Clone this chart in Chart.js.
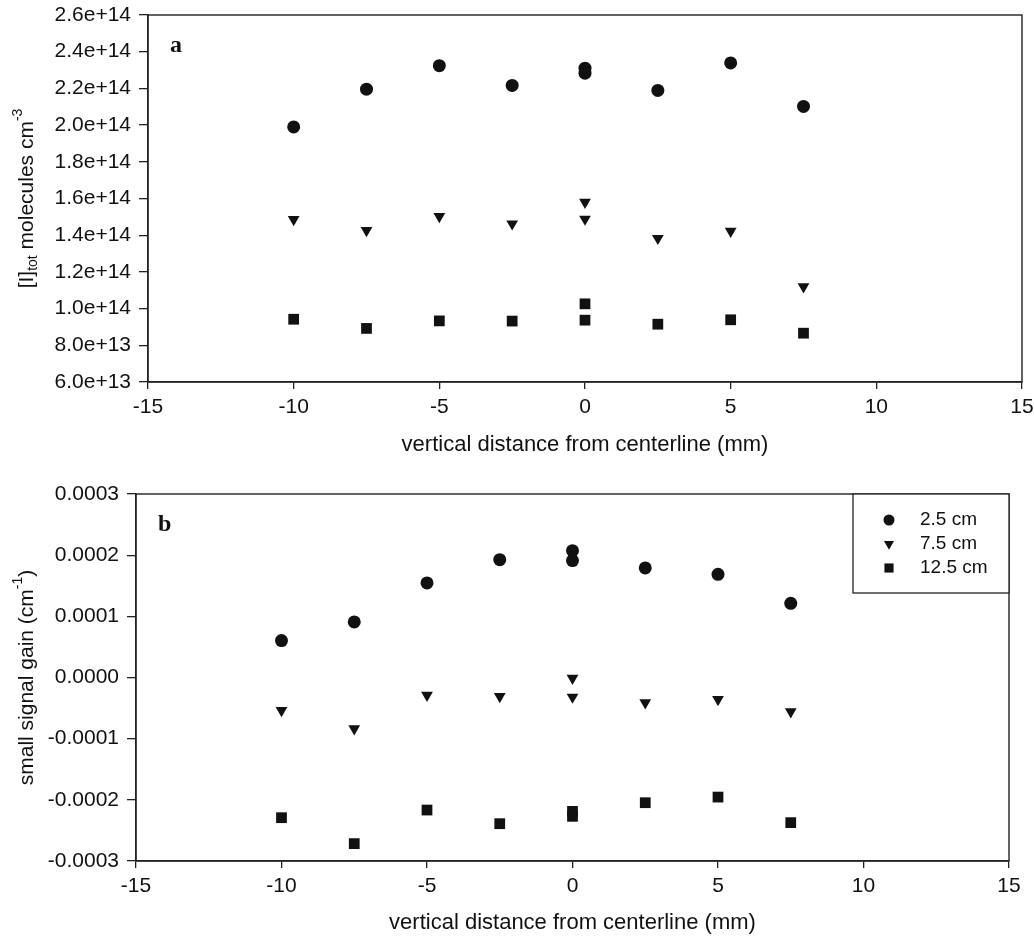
<!DOCTYPE html>
<html>
<head>
<meta charset="utf-8">
<title>[I]tot and small signal gain vs vertical distance from centerline</title>
<script src="https://cdn.jsdelivr.net/npm/chart.js@4.4.1/dist/chart.umd.min.js"></script>
<style>
  html, body { margin: 0; padding: 0; background: #fff; overflow: hidden; }
  #wrap  { position: relative; width: 1034px; height: 940px; overflow: hidden; }
  .panel { position: absolute; left: 0; }
  #panelA { top: -6px; width: 1040px; height: 476px; }
  #panelB { top: 470px; width: 1034px; height: 470px; }
</style>
</head>
<body>
<div id="wrap">
  <div class="panel" id="panelA"><canvas id="chartA" width="1040" height="476"></canvas></div>
  <div class="panel" id="panelB"><canvas id="chartB" width="1034" height="470"></canvas></div>
</div>
<script>
// x positions in mm (centerline was measured twice)
var xDistance   = [-10, -7.5, -5, -2.5, 0, 0, 2.5, 5, 7.5];
var seriesNames = ['2.5 cm', '7.5 cm', '12.5 cm'];

// panel a: [I]tot, molecules cm^-3
var conc25  = [1.99e14, 2.196e14, 2.324e14, 2.216e14, 2.310e14, 2.283e14, 2.189e14, 2.339e14, 2.102e14];
var conc75  = [1.486e14, 1.426e14, 1.502e14, 1.462e14, 1.580e14, 1.488e14, 1.383e14, 1.422e14, 1.120e14];
var conc125 = [0.942e14, 0.892e14, 0.933e14, 0.932e14, 1.026e14, 0.937e14, 0.915e14, 0.939e14, 0.866e14];

// panel b: small signal gain, cm^-1
var gain25  = [6.04e-5, 9.09e-5, 1.546e-4, 1.927e-4, 2.074e-4, 1.911e-4, 1.791e-4, 1.687e-4, 1.213e-4];
var gain75  = [-5.39e-5, -8.38e-5, -2.89e-5, -3.10e-5, -0.12e-5, -3.20e-5, -4.13e-5, -3.59e-5, -5.60e-5];
var gain125 = [-2.292e-4, -2.716e-4, -2.167e-4, -2.390e-4, -2.189e-4, -2.270e-4, -2.047e-4, -1.955e-4, -2.373e-4];

// axis ranges and titles
var xRange     = { min: -15, max: 15, step: 5 };
var concRange  = { min: 6e13, max: 2.6e14, step: 2e13 };
var gainRange  = { min: -3e-4, max: 3e-4, step: 1e-4 };
var xTitle     = 'vertical distance from centerline (mm)';
var concTitle  = [{ text: '[I]' }, { text: 'tot', sub: true }, { text: ' molecules cm' }, { text: '-3', sup: true }];
var gainTitle  = [{ text: 'small signal gain (cm' }, { text: '-1', sup: true }, { text: ')' }];

(function () {

  var INK  = '#111';
  var FONT = '"Liberation Sans", Arial, Helvetica, sans-serif';
  var SIZE = 21;

  // marker looks per series: circle, down triangle, square
  var markers = [
    { pointStyle: 'circle',   radius: 6.5, rotation: 0   },
    { pointStyle: 'triangle', radius: 6.8, rotation: 180 },
    { pointStyle: 'rect',     radius: 7.6, rotation: 0   }
  ];

  function toPoints(ys) {
    return xDistance.map(function (x, i) { return { x: x, y: ys[i] }; });
  }

  function makeDatasets(list) {
    return list.map(function (ys, i) {
      var m = markers[i];
      return {
        label:            seriesNames[i],
        data:             toPoints(ys),
        pointStyle:       m.pointStyle,
        pointRadius:      m.radius,
        pointHoverRadius: m.radius,
        rotation:         m.rotation,
        backgroundColor:  INK,
        borderColor:      INK,
        borderWidth:      0,
        showLine:         false
      };
    });
  }

  // full frame around the plot area
  var framePlugin = {
    id: 'frame',
    afterDraw: function (chart) {
      var a = chart.chartArea, c = chart.ctx;
      c.save();
      c.strokeStyle = '#222';
      c.lineWidth   = 1.4;
      c.strokeRect(a.left, a.top, a.right - a.left, a.bottom - a.top);
      c.restore();
    }
  };

  // bold panel letter in upper-left corner
  function makeLetterPlugin(letter) {
    return {
      id: 'letter',
      afterDraw: function (chart) {
        var a = chart.chartArea, c = chart.ctx;
        c.save();
        c.font         = 'bold 24px "Liberation Serif", "Times New Roman", serif';
        c.fillStyle    = INK;
        c.textAlign    = 'left';
        c.textBaseline = 'alphabetic';
        c.fillText(letter, a.left + 22, a.top + 37);
        c.restore();
      }
    };
  }

  // rotated y title with sub/superscripts
  function makeYTitlePlugin(parts) {
    return {
      id: 'yTitle',
      afterDraw: function (chart) {
        var a = chart.chartArea, c = chart.ctx;
        var cy = (a.top + a.bottom) / 2;
        c.save();
        c.translate(27, cy);
        c.rotate(-Math.PI / 2);
        c.fillStyle    = INK;
        c.textAlign    = 'left';
        c.textBaseline = 'middle';
        var widths = [], total = 0;
        parts.forEach(function (p) {
          c.font = (p.sub || p.sup ? 14 : SIZE) + 'px ' + FONT;
          var w = c.measureText(p.text).width;
          widths.push(w);
          total += w;
        });
        var x = -total / 2;
        parts.forEach(function (p, i) {
          c.font = (p.sub || p.sup ? 14 : SIZE) + 'px ' + FONT;
          var dy = p.sub ? 6 : (p.sup ? -9 : 0);
          c.fillText(p.text, x, dy);
          x += widths[i];
        });
        c.restore();
      }
    };
  }

  // boxed legend in upper-right corner of the plot
  var legendBoxPlugin = {
    id: 'legendBox',
    afterDraw: function (chart) {
      var a = chart.chartArea, c = chart.ctx;
      var w = 156, h = 99;
      var left = a.right - w, top = a.top;
      c.save();
      c.fillStyle = '#fff';
      c.fillRect(left, top, w, h);
      c.strokeStyle = '#222';
      c.lineWidth   = 1.3;
      c.strokeRect(left, top, w, h);
      c.font         = '19px ' + FONT;
      c.textAlign    = 'left';
      c.textBaseline = 'middle';
      chart.data.datasets.forEach(function (ds, i) {
        var y = top + 26 + i * 24;
        c.fillStyle   = INK;
        c.strokeStyle = INK;
        Chart.helpers.drawPoint(c, {
          pointStyle:  ds.pointStyle,
          radius:      ds.pointRadius * 0.85,
          rotation:    ds.rotation,
          borderWidth: 0
        }, left + 36, y);
        c.fillText(ds.label, left + 67, y);
      });
      c.restore();
    }
  };

  function xScale(titlePadBottom, height) {
    return {
      type: 'linear',
      position: 'bottom',
      min: xRange.min,
      max: xRange.max,
      afterFit: function (s) { s.height = height; },
      ticks:  { stepSize: xRange.step, color: INK, font: { family: FONT, size: SIZE }, padding: 6, maxRotation: 0 },
      grid:   { display: true, drawOnChartArea: false, drawTicks: true, tickLength: 7, color: '#222', lineWidth: 1.3 },
      border: { display: true, color: '#222', width: 1.4 },
      title:  { display: true, text: xTitle, color: INK, font: { family: FONT, size: 22 }, padding: { top: 0, bottom: titlePadBottom } }
    };
  }

  function yScale(range, fmt, width) {
    return {
      type: 'linear',
      min: range.min,
      max: range.max,
      afterFit: function (s) { s.width = width; },
      ticks:  { stepSize: range.step, color: INK, font: { family: FONT, size: SIZE }, padding: 8, callback: fmt },
      grid:   { display: true, drawOnChartArea: false, drawTicks: true, tickLength: 9, color: '#222', lineWidth: 1.3 },
      border: { display: true, color: '#222', width: 1.4 }
    };
  }

  function baseOptions(pad, xs, ys) {
    return {
      responsive: false,
      animation:  false,
      layout:     { padding: pad },
      plugins:    { legend: { display: false }, tooltip: { enabled: false } },
      scales:     { x: xs, y: ys }
    };
  }

  // panel a
  new Chart(document.getElementById('chartA').getContext('2d'), {
    type: 'scatter',
    plugins: [framePlugin, makeLetterPlugin('a'), makeYTitlePlugin(concTitle)],
    data: { datasets: makeDatasets([conc25, conc75, conc125]) },
    options: baseOptions(
      { top: 21, right: 18, bottom: 0, left: 0 },
      xScale(12, 88),
      yScale(concRange, function (v) { return Number(v).toExponential(1); }, 148)
    )
  });

  // panel b
  new Chart(document.getElementById('chartB').getContext('2d'), {
    type: 'scatter',
    plugins: [framePlugin, makeLetterPlugin('b'), makeYTitlePlugin(gainTitle), legendBoxPlugin],
    data: { datasets: makeDatasets([gain25, gain75, gain125]) },
    options: baseOptions(
      { top: 24, right: 25, bottom: 0, left: 0 },
      xScale(4, 79),
      yScale(gainRange, function (v) { return Math.abs(v) < 1e-12 ? '0.0000' : Number(v).toFixed(4); }, 136)
    )
  });

})();
</script>
</body>
</html>
